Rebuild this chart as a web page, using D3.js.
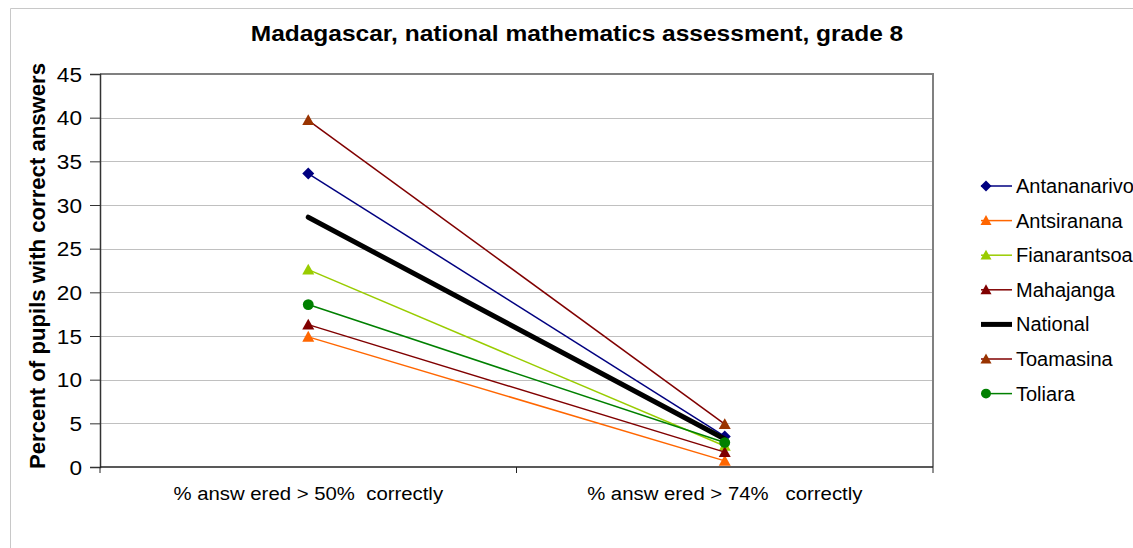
<!DOCTYPE html>
<html><head><meta charset="utf-8">
<script src="https://cdn.jsdelivr.net/npm/d3@7"></script>
<style>body{margin:0;background:#fff}svg{display:block;font-family:"Liberation Sans",Arial,sans-serif}</style>
</head><body><svg id="c" width="1133" height="548"></svg>
<script>
const categories = ["% answ ered > 50%  correctly", "% answ ered > 74%   correctly"];
const seriesNames = ["Antananarivo","Antsiranana","Fianarantsoa","Mahajanga","National","Toamasina","Toliara"];
const antananarivo = [33.6, 3.5];
const antsiranana = [14.9, 0.7];
const fianarantsoa = [22.6, 2.4];
const mahajanga = [16.3, 1.7];
const national = [28.6, 3.2];
const toamasina = [39.7, 4.9];
const toliara = [18.6, 2.8];
const yTicks = [0,5,10,15,20,25,30,35,40,45];
const seriesValues = [antananarivo, antsiranana, fianarantsoa, mahajanga, national, toamasina, toliara];
const styles = [
  {line:"#000080", fill:"#000080", marker:"diamond", w:1.5},
  {line:"#FF6600", fill:"#FF6600", marker:"triangle", w:1.5},
  {line:"#99CC00", fill:"#99CC00", marker:"triangle", w:1.5},
  {line:"#800000", fill:"#800000", marker:"triangle", w:1.5},
  {line:"#000000", fill:"#000000", marker:"none", w:5},
  {line:"#800000", fill:"#993300", marker:"triangle", w:1.5},
  {line:"#008000", fill:"#008000", marker:"circle", w:1.5}
];
function stretch(sel, f){
  sel.each(function(){
    const w = this.getComputedTextLength();
    d3.select(this).attr("textLength", w*f).attr("lengthAdjust","spacingAndGlyphs");
  });
}
const svg = d3.select("#c");
svg.append("path").attr("d","M10.5,548 L10.5,8.5 L1133,8.5").attr("fill","none").attr("stroke","#c8c8c8");
const L=100, R=933, T=74, B=467;
const x = d3.scaleBand().domain(categories).range([L,R]);
const y = d3.scaleLinear().domain([0,45]).range([B,T]);
svg.append("g").selectAll("line").data(yTicks.filter(d=>d>0)).join("line")
  .attr("x1",L).attr("x2",R).attr("y1",d=>Math.round(y(d))+0.5).attr("y2",d=>Math.round(y(d))+0.5)
  .attr("stroke","#c0c0c0").attr("stroke-width",1);
svg.append("path").attr("d",`M${L},${T} L${R},${T} L${R},${B}`).attr("fill","none").attr("stroke","#808080").attr("stroke-width",2);
const yAxis = svg.append("g").attr("transform",`translate(${L},0)`)
  .call(d3.axisLeft(y).tickValues(yTicks).tickSize(10).tickPadding(8).tickFormat(d3.format("d")));
yAxis.select(".domain").attr("stroke","#333").attr("stroke-width",1.5);
yAxis.selectAll(".tick line").attr("stroke","#333");
yAxis.selectAll("text").attr("font-size",20).attr("fill","#000").attr("font-family","Liberation Sans, Arial, sans-serif").attr("dy","0.36em");
stretch(yAxis.selectAll("text"), 1.13);
const xAxis = svg.append("g").attr("transform",`translate(0,${B})`)
  .call(d3.axisBottom(x).tickSize(0).tickPadding(20));
xAxis.select(".domain").remove();
svg.append("line").attr("x1",L).attr("x2",R).attr("y1",B).attr("y2",B).attr("stroke","#222").attr("stroke-width",1.5);
svg.append("g").selectAll("line").data([L,(L+R)/2,R]).join("line")
  .attr("x1",d=>d).attr("x2",d=>d).attr("y1",B).attr("y2",B+6).attr("stroke","#222");
xAxis.selectAll("text").attr("font-size",18).attr("fill","#000").style("white-space","pre")
  .attr("font-family","Liberation Sans, Arial, sans-serif").attr("xml:space","preserve");
stretch(xAxis.selectAll("text"), 1.13);
const title = svg.append("text").attr("x",577).attr("y",41).attr("text-anchor","middle").attr("font-weight","bold")
  .attr("font-size",21.5).text("Madagascar, national mathematics assessment, grade 8");
stretch(title, 1.14);
const ylab = svg.append("text").attr("transform","translate(45,266) rotate(-90)").attr("text-anchor","middle")
  .attr("font-weight","bold").attr("font-size",21.5).text("Percent of pupils with correct answers");
stretch(ylab, 1.03);
function marker(g, type, cx, cy, fill, s){
  if(type==="diamond") g.append("path").attr("d",`M${cx},${cy-s} L${cx+s},${cy} L${cx},${cy+s} L${cx-s},${cy} Z`).attr("fill",fill);
  else if(type==="triangle") g.append("path").attr("d",`M${cx},${cy-s} L${cx+s},${cy+s*0.8} L${cx-s},${cy+s*0.8} Z`).attr("fill",fill);
  else if(type==="circle") g.append("circle").attr("cx",cx).attr("cy",cy).attr("r",s*0.9).attr("fill",fill);
}
const line = d3.line().x((d,i)=>x(categories[i])+x.bandwidth()/2).y(d=>y(d));
const gS = svg.append("g");
seriesValues.forEach((vals,k)=>{
  const st = styles[k];
  gS.append("path").datum(vals).attr("d",line).attr("fill","none").attr("stroke",st.line)
    .attr("stroke-width",st.w).attr("stroke-linecap",st.w>2?"round":"butt");
  vals.forEach((v,i)=>marker(gS, st.marker, x(categories[i])+x.bandwidth()/2, y(v), st.fill, 6));
});
const lg = svg.append("g");
seriesNames.forEach((n,k)=>{
  const st = styles[k];
  const yy = 186 + k*34.6;
  lg.append("line").attr("x1",981).attr("x2",1012).attr("y1",yy).attr("y2",yy).attr("stroke",st.line).attr("stroke-width",st.w>2?5:1.5);
  marker(lg, st.marker, 986, yy, st.fill, 5.5);
  lg.append("text").attr("x",1016).attr("y",yy+7).attr("font-size",20).text(n);
});
</script></body></html>
